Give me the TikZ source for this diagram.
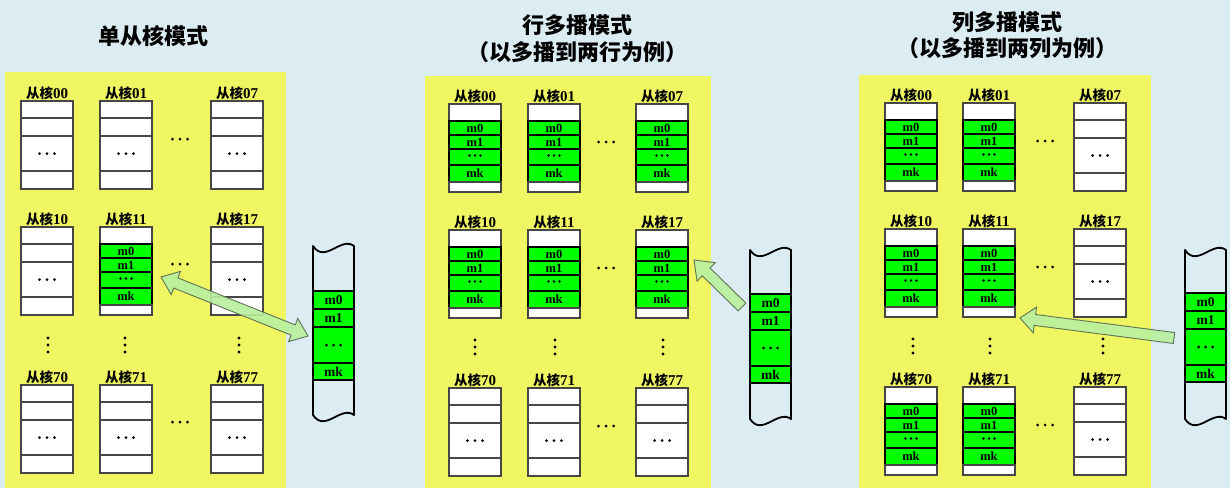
\documentclass[tikz,border=0pt]{standalone}
\usepackage{fontspec}
\setmainfont{Liberation Serif}
\newfontfamily\cjk{Noto Sans CJK SC}
\usetikzlibrary{calc}
\definecolor{bgblue}{RGB}{219,236,242}
\definecolor{panely}{RGB}{240,245,98}
\definecolor{cellg}{RGB}{0,255,0}
\definecolor{arrfill}{RGB}{184,240,158}
\definecolor{arredge}{RGB}{95,115,85}
\definecolor{boxline}{RGB}{70,70,70}
\tikzset{
 wc/.style={draw=boxline, fill=white, line width=1.2pt, minimum width=52pt, inner sep=0pt, outer sep=0pt},
 gc/.style={draw=black, fill=cellg, line width=1.2pt, minimum width=52pt, inner sep=0pt, outer sep=0pt, font=\fontsize{12.5}{12.5}\selectfont\bfseries},
 lbl/.style={inner sep=0pt, font=\fontsize{15}{15}\selectfont\bfseries},
 ttl/.style={inner sep=0pt, font=\fontsize{22}{24}\selectfont\cjk\bfseries},
 mc/.style={draw=black, fill=cellg, line width=1.6pt, minimum width=41pt, inner sep=0pt, outer sep=0pt, font=\fontsize{13.5}{13.5}\selectfont\bfseries},
 memline/.style={draw=black, line width=1.8pt, line join=round},
 fatarr/.style={draw=arredge, fill=arrfill, line width=0.9pt, line join=miter, fill opacity=0.9},
}
% three horizontal dots: anchor, dy, spacing, radius
\newcommand\hdots[4]{\foreach \k in {-1,0,1}{\fill ($(#1)+(\k*#3,#2)$) circle (#4pt);}}
% three vertical dots at x,y
\newcommand\vdotsat[2]{\foreach \k in {-1,0,1}{\fill (#1,#2+\k*7) circle (1.7pt);}}
% core box: name, x-left, top, number, type (0 white / 1 green)
\newcommand\corebox[5]{%
 \node[lbl] (#1l) at (#2+26,#3-8) {{\cjk\bfseries\fontsize{13.5}{14}\selectfont 从核}#4};
 \ifnum#5=0
  \node[wc,minimum height=17pt] (#1a) at (#2+26,#3+8.5) {};
  \node[wc,minimum height=18pt] (#1b) at (#2+26,#3+26) {};
  \node[wc,minimum height=35pt] (#1c) at (#2+26,#3+52.5) {};
  \node[wc,minimum height=18pt] (#1d) at (#2+26,#3+79) {};
  \hdots{#1c.center}{0}{7.5}{1.5}
 \else
  \node[wc,minimum height=17pt] (#1a) at (#2+26,#3+8.5) {};
  \node[gc,minimum height=14pt] (#1b) at (#2+26,#3+24) {m0};
  \node[gc,minimum height=14pt] (#1c) at (#2+26,#3+38) {m1};
  \node[gc,minimum height=16pt] (#1d) at (#2+26,#3+53) {};
  \node[gc,minimum height=17pt] (#1e) at (#2+26,#3+69.5) {mk};
  \node[wc,minimum height=10pt] (#1f) at (#2+26,#3+83) {};
  \hdots{#1d.center}{-1.5}{5.5}{1.3}
 \fi}
% memory column: name, left, top, green top, bottom
\newcommand\memcol[5]{%
 \node[mc,minimum height=18pt] (#1a) at (#2+20.5,#4+9) {m0};
 \node[mc,minimum height=18pt] (#1b) at (#2+20.5,#4+27) {m1};
 \node[mc,minimum height=36pt] (#1c) at (#2+20.5,#4+54) {};
 \node[mc,minimum height=17pt] (#1d) at (#2+20.5,#4+80.5) {mk};
 \hdots{#1c.center}{0}{7}{1.5}
 \draw[memline] (#2,#3) -- (#2,#5) .. controls (#2+12,#5+18) and (#2+28,#5-10) .. (#2+41,#5)
   -- (#2+41,#3) .. controls (#2+28,#3-10) and (#2+12,#3+18) .. (#2,#3) -- cycle;}
\begin{document}
\begin{tikzpicture}[x=1pt,y=-1pt]
\useasboundingbox (0,0) rectangle (1230,488);
\fill[bgblue] (0,0) rectangle (1230,488);
\fill[panely] (5,72) rectangle (286,488);
\fill[panely] (425,76) rectangle (711,488);
\fill[panely] (859,75) rectangle (1151,488);
% titles
\node[ttl] (t1) at (153,36) {单从核模式};
\node[ttl] (t2a) at (577,25) {行多播模式};
\node[ttl] (t2b) at (577,52) {（以多播到两行为例）};
\node[ttl] (t3a) at (1007,22) {列多播模式};
\node[ttl] (t3b) at (1007,48) {（以多播到两列为例）};
% panel 1
\corebox{p1r0c0}{21}{101}{00}{0}
\corebox{p1r0c1}{100}{101}{01}{0}
\corebox{p1r0c7}{211}{101}{07}{0}
\corebox{p1r1c0}{21}{227}{10}{0}
\corebox{p1r1c1}{100}{227}{11}{1}
\corebox{p1r1c7}{211}{227}{17}{0}
\corebox{p1r7c0}{21}{385}{70}{0}
\corebox{p1r7c1}{100}{385}{71}{0}
\corebox{p1r7c7}{211}{385}{77}{0}
\hdots{180,139}{0}{7.5}{1.5}
\hdots{180,264}{0}{7.5}{1.5}
\hdots{180,422}{0}{7.5}{1.5}
\vdotsat{48}{345}\vdotsat{125}{345}\vdotsat{239}{345}
\memcol{m1}{313}{246}{291}{415}
% panel 2
\corebox{p2r0c0}{449}{104}{00}{1}
\corebox{p2r0c1}{528}{104}{01}{1}
\corebox{p2r0c7}{636}{104}{07}{1}
\corebox{p2r1c0}{449}{230}{10}{1}
\corebox{p2r1c1}{528}{230}{11}{1}
\corebox{p2r1c7}{636}{230}{17}{1}
\corebox{p2r7c0}{449}{388}{70}{0}
\corebox{p2r7c1}{528}{388}{71}{0}
\corebox{p2r7c7}{636}{388}{77}{0}
\hdots{606,142}{0}{7.5}{1.5}
\hdots{606,268}{0}{7.5}{1.5}
\hdots{606,426}{0}{7.5}{1.5}
\vdotsat{475}{347}\vdotsat{555}{347}\vdotsat{663}{347}
\memcol{m2}{750}{250}{294}{419}
% panel 3
\corebox{p3r0c0}{885}{103}{00}{1}
\corebox{p3r0c1}{963}{103}{01}{1}
\corebox{p3r0c7}{1074}{103}{07}{0}
\corebox{p3r1c0}{885}{229}{10}{1}
\corebox{p3r1c1}{963}{229}{11}{1}
\corebox{p3r1c7}{1074}{229}{17}{0}
\corebox{p3r7c0}{885}{387}{70}{1}
\corebox{p3r7c1}{963}{387}{71}{1}
\corebox{p3r7c7}{1074}{387}{77}{0}
\hdots{1045,141}{0}{7.5}{1.5}
\hdots{1045,267}{0}{7.5}{1.5}
\hdots{1045,425}{0}{7.5}{1.5}
\vdotsat{913}{346}\vdotsat{990}{346}\vdotsat{1103}{346}
\memcol{m3}{1185}{250}{293}{419}
% arrow panel 1 (double)
\coordinate (a1p) at (161,277);
\coordinate (a1q) at (308,336);
\coordinate (a1pn) at ($(a1p)!16pt!(a1q)$);
\coordinate (a1qn) at ($(a1q)!16pt!(a1p)$);
\draw[fatarr] (a1p) -- ($(a1pn)!12.5pt!90:(a1q)$) -- ($(a1pn)!5.5pt!90:(a1q)$)
  -- ($(a1qn)!5.5pt!-90:(a1p)$) -- ($(a1qn)!12.5pt!-90:(a1p)$) -- (a1q)
  -- ($(a1qn)!12.5pt!90:(a1p)$) -- ($(a1qn)!5.5pt!90:(a1p)$)
  -- ($(a1pn)!5.5pt!-90:(a1q)$) -- ($(a1pn)!12.5pt!-90:(a1q)$) -- cycle;
% arrow panel 2
\coordinate (a2t) at (742,307);
\coordinate (a2h) at (694,260);
\coordinate (a2n) at ($(a2h)!17pt!(a2t)$);
\draw[fatarr] ($(a2t)!5.5pt!90:(a2h)$) -- ($(a2n)!5.5pt!90:(a2h)$) -- ($(a2n)!13pt!90:(a2h)$)
  -- (a2h) -- ($(a2n)!13pt!-90:(a2h)$) -- ($(a2n)!5.5pt!-90:(a2h)$) -- ($(a2t)!5.5pt!-90:(a2h)$) -- cycle;
% arrow panel 3
\coordinate (a3t) at (1174,338);
\coordinate (a3h) at (1020,318);
\coordinate (a3n) at ($(a3h)!15pt!(a3t)$);
\draw[fatarr] ($(a3t)!5.5pt!90:(a3h)$) -- ($(a3n)!5.5pt!90:(a3h)$) -- ($(a3n)!13pt!90:(a3h)$)
  -- (a3h) -- ($(a3n)!13pt!-90:(a3h)$) -- ($(a3n)!5.5pt!-90:(a3h)$) -- ($(a3t)!5.5pt!-90:(a3h)$) -- cycle;
\end{tikzpicture}
\end{document}
